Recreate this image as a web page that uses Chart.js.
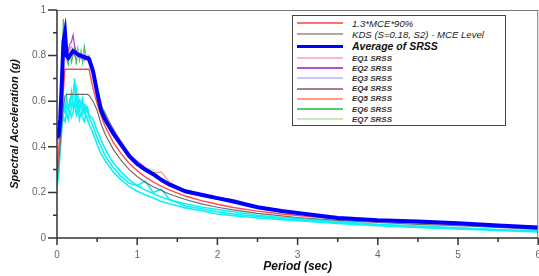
<!DOCTYPE html>
<html>
<head>
<meta charset="utf-8">
<script src="https://cdn.jsdelivr.net/npm/chart.js@4.4.1/dist/chart.umd.min.js"></script>
<style>
  body { margin: 0; background: #fff; }
  #wrap { position: relative; width: 539px; height: 276px; }
  #legend {
    position: absolute; left: 292px; top: 15px; width: 214px; height: 111px;
    box-sizing: border-box; border: 1px solid #444; background: #fff; padding-top: 2px;
    font-family: 'Liberation Sans', Arial, sans-serif; font-style: italic; color: #222;
  }
  .row { display: flex; align-items: center; }
  .row .swatch { margin-left: 4px; width: 46px; flex: none; }
  .row span { margin-left: 9px; white-space: nowrap; }
</style>
</head>
<body>
<div id="wrap">
  <canvas id="spectra" width="539" height="276"></canvas>
  <div id="legend"></div>
</div>
<script>
// period axis (sec), shared by every curve
const periods = [0, 0.02, 0.04, 0.06, 0.08, 0.1, 0.12, 0.14, 0.16, 0.18, 0.2, 0.22, 0.24, 0.26, 0.28, 0.3, 0.32, 0.34, 0.36, 0.38, 0.4,
  0.45, 0.5, 0.55, 0.6, 0.7, 0.8, 0.9, 1.0, 1.1, 1.2, 1.3, 1.4, 1.6, 1.8, 2.0, 2.2, 2.5, 2.8, 3.0, 3.5, 4.0, 4.5, 5.0, 5.5, 6.0];

const mce90 = [0.30, 0.38, 0.47, 0.56, 0.65, 0.74, 0.74, 0.74, 0.74, 0.74, 0.74, 0.74, 0.74, 0.74, 0.74, 0.74, 0.74, 0.74, 0.74, 0.74, 0.74,
  0.655, 0.59, 0.536, 0.49, 0.42, 0.37, 0.328, 0.295, 0.268, 0.246, 0.227, 0.211, 0.184, 0.164, 0.148, 0.134, 0.118, 0.105, 0.098, 0.084, 0.074, 0.066, 0.059, 0.052, 0.046];
const kdsMce = [0.25, 0.33, 0.41, 0.5, 0.58, 0.62, 0.63, 0.63, 0.63, 0.63, 0.63, 0.63, 0.63, 0.63, 0.63, 0.63, 0.63, 0.63, 0.63, 0.63, 0.625,
  0.6, 0.56, 0.5, 0.455, 0.39, 0.34, 0.30, 0.27, 0.245, 0.225, 0.208, 0.193, 0.169, 0.15, 0.135, 0.123, 0.108, 0.097, 0.09, 0.077, 0.068, 0.06, 0.054, 0.046, 0.038];
const avgSrss = [0.44, 0.45, 0.52, 0.68, 0.86, 0.90, 0.80, 0.79, 0.80, 0.81, 0.82, 0.815, 0.81, 0.805, 0.80, 0.80, 0.795, 0.795, 0.79, 0.79, 0.785,
  0.73, 0.64, 0.56, 0.52, 0.46, 0.41, 0.36, 0.325, 0.30, 0.28, 0.255, 0.235, 0.205, 0.19, 0.175, 0.16, 0.135, 0.118, 0.11, 0.088, 0.078, 0.072, 0.065, 0.055, 0.046];

const eq1 = [0.42, 0.44, 0.5, 0.66, 0.84, 0.86, 0.78, 0.8, 0.82, 0.8, 0.83, 0.82, 0.8, 0.82, 0.81, 0.79, 0.8, 0.81, 0.8, 0.8, 0.79,
  0.75, 0.66, 0.57, 0.52, 0.45, 0.4, 0.35, 0.32, 0.3, 0.275, 0.25, 0.23, 0.2, 0.19, 0.172, 0.165, 0.14, 0.12, 0.11, 0.09, 0.08, 0.07, 0.063, 0.055, 0.047];
const eq2 = [0.43, 0.45, 0.51, 0.66, 0.82, 0.84, 0.8, 0.82, 0.85, 0.86, 0.89, 0.84, 0.82, 0.8, 0.81, 0.79, 0.8, 0.78, 0.79, 0.8, 0.78,
  0.72, 0.63, 0.55, 0.51, 0.46, 0.4, 0.36, 0.32, 0.295, 0.275, 0.25, 0.23, 0.2, 0.185, 0.17, 0.158, 0.133, 0.116, 0.108, 0.087, 0.077, 0.07, 0.064, 0.055, 0.045];
const eq3 = [0.44, 0.46, 0.53, 0.7, 0.87, 0.88, 0.79, 0.78, 0.79, 0.8, 0.8, 0.81, 0.8, 0.79, 0.8, 0.81, 0.79, 0.78, 0.79, 0.78, 0.78,
  0.73, 0.65, 0.57, 0.53, 0.47, 0.42, 0.37, 0.33, 0.3, 0.28, 0.26, 0.24, 0.21, 0.195, 0.178, 0.163, 0.14, 0.12, 0.113, 0.095, 0.082, 0.074, 0.066, 0.057, 0.048];
const eq4 = [0.45, 0.46, 0.52, 0.67, 0.85, 0.88, 0.8, 0.78, 0.79, 0.8, 0.81, 0.8, 0.79, 0.81, 0.8, 0.79, 0.8, 0.81, 0.79, 0.78, 0.78,
  0.74, 0.66, 0.58, 0.54, 0.48, 0.42, 0.36, 0.32, 0.3, 0.285, 0.26, 0.235, 0.205, 0.192, 0.178, 0.168, 0.138, 0.118, 0.11, 0.088, 0.077, 0.071, 0.064, 0.054, 0.045];
const eq5 = [0.44, 0.45, 0.52, 0.68, 0.85, 0.87, 0.79, 0.81, 0.83, 0.84, 0.82, 0.8, 0.81, 0.8, 0.79, 0.8, 0.79, 0.8, 0.79, 0.79, 0.78,
  0.73, 0.64, 0.56, 0.51, 0.45, 0.4, 0.355, 0.34, 0.31, 0.285, 0.29, 0.245, 0.205, 0.19, 0.176, 0.16, 0.135, 0.118, 0.11, 0.088, 0.078, 0.072, 0.065, 0.055, 0.046];
const eq6 = [0.46, 0.48, 0.55, 0.75, 0.96, 0.88, 0.78, 0.76, 0.82, 0.77, 0.8, 0.84, 0.76, 0.83, 0.78, 0.82, 0.77, 0.84, 0.8, 0.78, 0.8,
  0.74, 0.65, 0.58, 0.55, 0.47, 0.41, 0.37, 0.33, 0.3, 0.28, 0.255, 0.232, 0.205, 0.19, 0.175, 0.158, 0.133, 0.117, 0.108, 0.087, 0.077, 0.071, 0.064, 0.054, 0.045];
const eq7 = [0.44, 0.45, 0.52, 0.68, 0.86, 0.88, 0.8, 0.79, 0.8, 0.81, 0.8, 0.8, 0.81, 0.8, 0.8, 0.79, 0.8, 0.79, 0.78, 0.79, 0.78,
  0.72, 0.63, 0.56, 0.52, 0.46, 0.41, 0.36, 0.32, 0.305, 0.3, 0.26, 0.235, 0.205, 0.19, 0.174, 0.16, 0.135, 0.118, 0.11, 0.088, 0.078, 0.072, 0.065, 0.055, 0.046];

// the cyan records (not listed in the legend)
const rec1 = [0.22, 0.3, 0.42, 0.52, 0.57, 0.55, 0.58, 0.56, 0.6, 0.57, 0.62, 0.7, 0.58, 0.62, 0.56, 0.6, 0.55, 0.58, 0.55, 0.57, 0.54,
  0.52, 0.47, 0.43, 0.39, 0.33, 0.29, 0.255, 0.23, 0.21, 0.195, 0.18, 0.168, 0.15, 0.136, 0.125, 0.115, 0.1, 0.09, 0.085, 0.072, 0.06, 0.052, 0.045, 0.037, 0.031];
const rec2 = [0.23, 0.28, 0.38, 0.48, 0.53, 0.51, 0.55, 0.52, 0.56, 0.53, 0.55, 0.6, 0.54, 0.57, 0.52, 0.55, 0.53, 0.51, 0.54, 0.52, 0.5,
  0.46, 0.41, 0.37, 0.34, 0.29, 0.255, 0.225, 0.205, 0.19, 0.175, 0.16, 0.15, 0.132, 0.12, 0.105, 0.098, 0.088, 0.08, 0.076, 0.064, 0.054, 0.046, 0.04, 0.033, 0.027];
const rec3 = [0.24, 0.32, 0.45, 0.55, 0.6, 0.56, 0.62, 0.57, 0.59, 0.64, 0.58, 0.6, 0.65, 0.56, 0.6, 0.57, 0.61, 0.55, 0.58, 0.56, 0.53,
  0.49, 0.44, 0.4, 0.36, 0.31, 0.27, 0.24, 0.23, 0.25, 0.2, 0.215, 0.17, 0.14, 0.128, 0.115, 0.105, 0.094, 0.085, 0.08, 0.068, 0.057, 0.049, 0.042, 0.035, 0.029];

const seriesNames = ['1.3*MCE*90%', 'KDS (S=0.18, S2) - MCE Level', 'Average of SRSS',
  'EQ1 SRSS', 'EQ2 SRSS', 'EQ3 SRSS', 'EQ4 SRSS', 'EQ5 SRSS', 'EQ6 SRSS', 'EQ7 SRSS'];
const seriesValues = [mce90, kdsMce, avgSrss, eq1, eq2, eq3, eq4, eq5, eq6, eq7];
const seriesColors = ['#ff4a4a', '#6e6e6e', '#0000ff', '#ffb4dc', '#b040e0', '#c4c4ff', '#a07070', '#ff9474', '#3cc45c', '#c4e4a8'];
const legendColors = ['#ff7070', '#a8a8a8', '#0000ff', '#ffb4dc', '#b050e0', '#c8c8ff', '#a88080', '#ff9c80', '#50cc70', '#cce8b4'];
const seriesWidths = [1.4, 1.2, 4, 1.2, 1.2, 1.2, 1.2, 1.2, 1.2, 1.2];
const seriesOrder = [1, 2, 0, 3, 3, 3, 3, 3, 3, 3];

const toPoints = vals => vals.map((v, i) => ({ x: periods[i], y: v }));

const datasets = seriesValues.map((vals, i) => ({
  label: seriesNames[i],
  data: toPoints(vals),
  borderColor: seriesColors[i],
  borderWidth: seriesWidths[i],
  order: seriesOrder[i],
}));
[rec1, rec2, rec3].forEach((vals, i) => {
  datasets.push({ label: 'rec' + (i + 1), data: toPoints(vals), borderColor: '#10f0f4', borderWidth: 1.6, order: 5 });
});

// frame on top/right plus outward tick marks (long for labelled values)
const frameTicks = {
  id: 'frameTicks',
  afterDraw(chart) {
    const { ctx, chartArea: a, scales: { x, y } } = chart;
    ctx.save();
    ctx.strokeStyle = '#777';
    ctx.lineWidth = 1;
    ctx.beginPath();
    ctx.moveTo(a.left, a.top + 0.5); ctx.lineTo(a.right, a.top + 0.5);
    ctx.moveTo(a.right - 0.5, a.top); ctx.lineTo(a.right - 0.5, a.bottom);
    ctx.stroke();
    ctx.strokeStyle = '#333';
    ctx.lineWidth = 1.5;
    ctx.beginPath();
    ctx.moveTo(a.left, a.top); ctx.lineTo(a.left, a.bottom); ctx.lineTo(a.right, a.bottom);
    x.ticks.forEach(t => {
      const px = x.getPixelForValue(t.value);
      ctx.moveTo(px, a.bottom); ctx.lineTo(px, a.bottom + (Number.isInteger(t.value) ? 7 : 4));
    });
    y.ticks.forEach(t => {
      const py = y.getPixelForValue(t.value);
      const major = Math.round(t.value * 10) % 2 === 0;
      ctx.moveTo(a.left, py); ctx.lineTo(a.left - (major ? 9 : 4), py);
    });
    ctx.stroke();
    ctx.restore();
  }
};

const tickFont = { family: "'Liberation Sans', Arial, sans-serif", size: 10 };
const titleFont = { family: "'Liberation Sans', Arial, sans-serif", weight: 'bold', style: 'italic' };

new Chart(document.getElementById('spectra').getContext('2d'), {
  type: 'line',
  data: { datasets },
  options: {
    responsive: false,
    animation: false,
    layout: { padding: { top: 10, right: 0 } },
    elements: { point: { radius: 0 }, line: { tension: 0 } },
    plugins: { legend: { display: false }, tooltip: { enabled: false } },
    scales: {
      x: {
        type: 'linear', min: 0, max: 6,
        grid: { display: false, drawTicks: true, tickLength: 13 },
        border: { display: false },
        ticks: {
          stepSize: 0.5, autoSkip: false, maxRotation: 0, padding: -2, color: '#666', font: tickFont,
          callback: v => Number.isInteger(v) ? String(v) : ''
        },
        title: { display: true, text: 'Period (sec)', color: '#111', font: { ...titleFont, size: 12 }, padding: { top: 0, bottom: 2 } },
        afterFit: s => { s.height = 38; }
      },
      y: {
        min: 0, max: 1,
        grid: { display: false, drawTicks: true, tickLength: 11 },
        border: { display: false },
        ticks: {
          stepSize: 0.1, autoSkip: false, padding: 0, color: '#666', font: tickFont,
          callback: v => { const r = Math.round(v * 10); return r % 2 === 0 ? String(r / 10) : ''; }
        },
        title: { display: true, text: 'Spectral Acceleration (g)', color: '#111', font: { ...titleFont, size: 11 }, padding: { top: 8, bottom: 0 } },
        afterFit: s => { s.width = 57; }
      }
    }
  },
  plugins: [frameTicks]
});

// legend box drawn as html from the same series lists
const rowHeights = [10.5, 11, 13.5, 10.2, 10.2, 10.2, 10.2, 10.2, 10.2, 10.2];
const legend = document.getElementById('legend');
seriesNames.forEach((name, i) => {
  const row = document.createElement('div');
  row.className = 'row';
  row.style.height = rowHeights[i] + 'px';
  const sw = document.createElement('div');
  sw.className = 'swatch';
  sw.style.height = (i === 2 ? 3 : 2) + 'px';
  sw.style.background = legendColors[i];
  const txt = document.createElement('span');
  txt.textContent = name;
  if (i < 2) { txt.style.fontSize = '9.6px'; }
  else if (i === 2) { txt.style.fontSize = '10.5px'; txt.style.fontWeight = 'bold'; txt.style.color = '#111'; }
  else { txt.style.fontSize = '8px'; txt.style.fontWeight = 'bold'; txt.style.color = '#333'; }
  row.appendChild(sw);
  row.appendChild(txt);
  legend.appendChild(row);
});
</script>
</body>
</html>
